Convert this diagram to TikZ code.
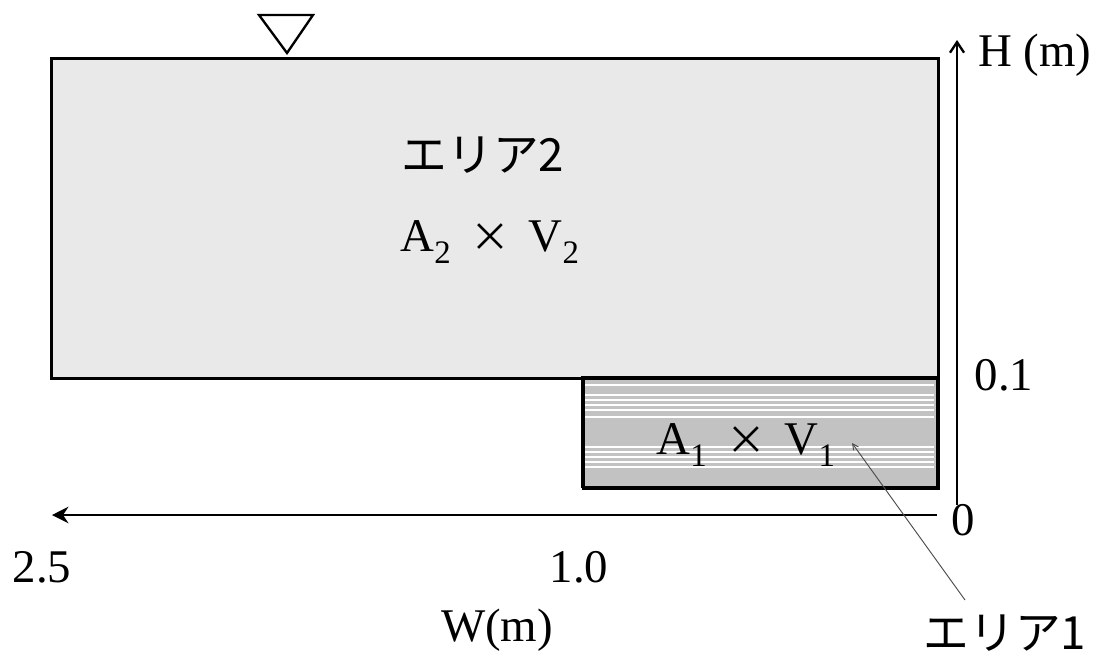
\documentclass[tikz,border=0pt]{standalone}
\usepackage{fontspec}
\setmainfont{Liberation Serif}
\newfontfamily\jp{Noto Sans CJK JP}
\newfontfamily\jpb{Noto Sans CJK JP Bold}
\usetikzlibrary{arrows.meta}
\definecolor{areatwo}{HTML}{E9E9E9}
\definecolor{areaone}{HTML}{C2C2C2}
\newcommand{\tms}{\hspace{0.4em}{\jp\fontsize{34}{34}\selectfont ×}\hspace{0.4em}}
\tikzset{
  px/.style={x=0.03cm,y=-0.03cm},
  lbl/.style={inner sep=0pt,font=\fontsize{40}{44}\selectfont},
  jlbl/.style={inner sep=0pt,font=\jp\fontsize{39}{44}\selectfont},
  axis/.style={line width=2.2pt},
  box/.style={draw=black,line width=2.2pt},
}
\begin{document}
\begin{tikzpicture}[px]
\useasboundingbox (0,0) rectangle (1105,662);
% area 2
\node[box,fill=areatwo,minimum width=887*0.03cm,minimum height=320*0.03cm,anchor=north west] (a2) at (50,57) {};
% area 1
\node[box,fill=areaone,minimum width=355*0.03cm,minimum height=110*0.03cm,anchor=north west] (a1) at (582,377) {};
\foreach \yy in {385,395,400,405,410,417,447,452,457,462,467}
  \draw[white,line width=1pt] (585,\yy) -- (934,\yy);
\draw[line width=2.2pt] (582,377) rectangle (937,487);
% water level triangle
\draw[line width=2pt] (259,15) -- (313,15) -- (287,53) -- cycle;
% axes
\coordinate (h0) at (957,505);
\coordinate (h1) at (957,40);
\draw[axis,-{Straight Barb[length=9pt,width=12pt,line width=2pt]}] (h0) -- (h1);
\coordinate (w0) at (937,515);
\coordinate (w1) at (52,515);
\draw[axis,-{Stealth[length=14pt,width=14pt]}] (w0) -- (w1);
% labels
\node[lbl,anchor=west] (hl) at (978,55) {H (m)};
\node[lbl] (z) at (963,520) {0};
\node[lbl] (p1) at (1004,375) {0.1};
\node[lbl] (w25) at (42,567) {2.5};
\node[lbl] (w10) at (579,567) {1.0};
\node[lbl] (wl) at (497,630) {W(m)};
\node[jlbl] (e2) at (483,155) {エリア2};
\node[lbl] (av2) at (490,242) {A$_{\mathrm{2}}$\tms V$_{\mathrm{2}}$};
\node[lbl] (av1) at (746,445) {A$_{\mathrm{1}}$\tms V$_{\mathrm{1}}$};
\node[jlbl] (e1) at (1005,633) {エリア1};
\coordinate (lp) at (965,600);
\draw[line width=0.8pt,gray!60!black,-{Straight Barb[length=5pt,width=5pt]}] (lp) -- (852,443);
\end{tikzpicture}
\end{document}
